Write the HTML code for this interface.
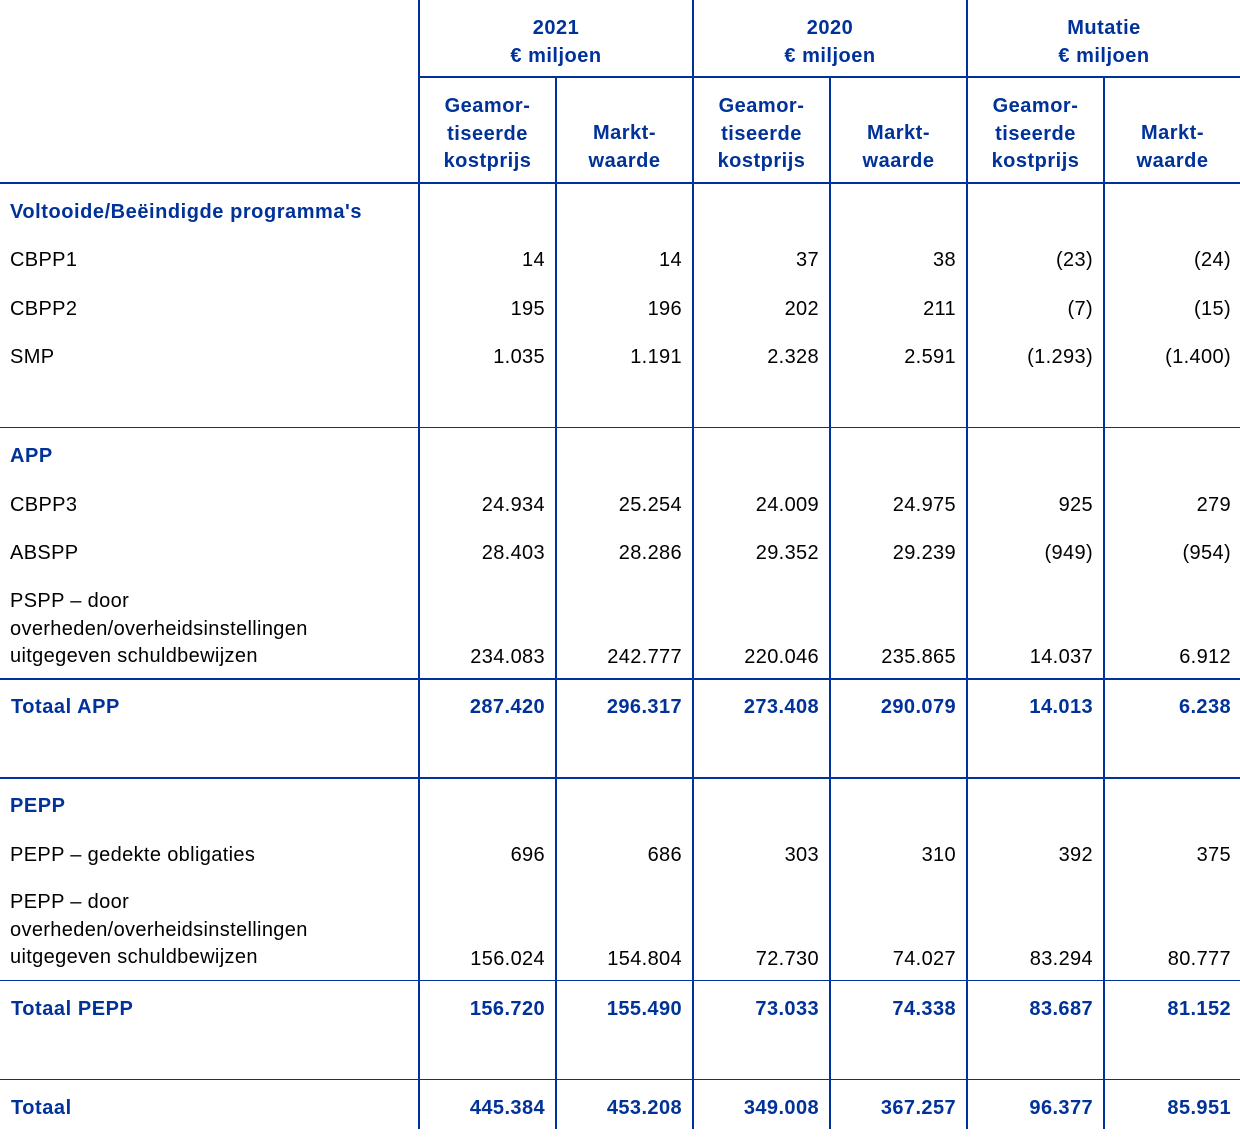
<!DOCTYPE html>
<html><head><meta charset="utf-8"><style>
html,body{margin:0;padding:0;background:#fff;}
body{width:1240px;height:1138px;position:relative;overflow:hidden;font-family:"Liberation Sans",Arial,sans-serif;font-size:20px;letter-spacing:0.35px;color:#000;}
.l{position:absolute;background:#003299;}
.t{position:absolute;line-height:28px;white-space:nowrap;}
.b{font-weight:bold;color:#003299;letter-spacing:0.55px;}
.h{position:absolute;font-weight:bold;color:#003299;text-align:center;line-height:27.5px;white-space:nowrap;letter-spacing:0.5px;}
.r{position:absolute;line-height:28px;white-space:nowrap;text-align:right;}
.r.b{letter-spacing:0.4px;}
.c1{right:695px}.c2{right:558px}.c3{right:421px}.c4{right:284px}.c5{right:147px}.c6{right:9px}
</style></head><body>
<!-- vertical lines -->
<div class="l" style="left:418px;top:0;width:2px;height:1129px"></div>
<div class="l" style="left:555px;top:77px;width:2px;height:1052px"></div>
<div class="l" style="left:692px;top:0;width:2px;height:1129px"></div>
<div class="l" style="left:829px;top:77px;width:2px;height:1052px"></div>
<div class="l" style="left:966px;top:0;width:2px;height:1129px"></div>
<div class="l" style="left:1103px;top:77px;width:2px;height:1052px"></div>
<!-- horizontal lines -->
<div class="l" style="left:418px;top:76px;width:822px;height:2px"></div>
<div class="l" style="left:0;top:182px;width:1240px;height:2px"></div>
<div class="l" style="left:0;top:427px;width:1240px;height:1px"></div>
<div class="l" style="left:0;top:678px;width:1240px;height:2px"></div>
<div class="l" style="left:0;top:777px;width:1240px;height:2px"></div>
<div class="l" style="left:0;top:980px;width:1240px;height:1px"></div>
<div class="l" style="left:0;top:1079px;width:1240px;height:1px"></div>

<!-- header groups -->
<div class="h" style="left:420px;width:272px;top:15px">2021<br>€ miljoen</div>
<div class="h" style="left:694px;width:272px;top:15px">2020<br>€ miljoen</div>
<div class="h" style="left:968px;width:272px;top:15px">Mutatie<br>€ miljoen</div>
<!-- subheaders -->
<div class="h" style="left:420px;width:135px;top:93px">Geamor-<br>tiseerde<br>kostprijs</div>
<div class="h" style="left:557px;width:135px;top:120px">Markt-<br>waarde</div>
<div class="h" style="left:694px;width:135px;top:93px">Geamor-<br>tiseerde<br>kostprijs</div>
<div class="h" style="left:831px;width:135px;top:120px">Markt-<br>waarde</div>
<div class="h" style="left:968px;width:135px;top:93px">Geamor-<br>tiseerde<br>kostprijs</div>
<div class="h" style="left:1105px;width:135px;top:120px">Markt-<br>waarde</div>

<!-- Voltooide -->
<div class="t b" style="left:10px;top:198px">Voltooide/Beëindigde programma's</div>

<div class="t" style="left:10px;top:246px">CBPP1</div>
<div class="r c1" style="top:246px">14</div><div class="r c2" style="top:246px">14</div><div class="r c3" style="top:246px">37</div><div class="r c4" style="top:246px">38</div><div class="r c5" style="top:246px">(23)</div><div class="r c6" style="top:246px">(24)</div>

<div class="t" style="left:10px;top:295px">CBPP2</div>
<div class="r c1" style="top:295px">195</div><div class="r c2" style="top:295px">196</div><div class="r c3" style="top:295px">202</div><div class="r c4" style="top:295px">211</div><div class="r c5" style="top:295px">(7)</div><div class="r c6" style="top:295px">(15)</div>

<div class="t" style="left:10px;top:343px">SMP</div>
<div class="r c1" style="top:343px">1.035</div><div class="r c2" style="top:343px">1.191</div><div class="r c3" style="top:343px">2.328</div><div class="r c4" style="top:343px">2.591</div><div class="r c5" style="top:343px">(1.293)</div><div class="r c6" style="top:343px">(1.400)</div>

<!-- APP -->
<div class="t b" style="left:10px;top:442px">APP</div>

<div class="t" style="left:10px;top:491px">CBPP3</div>
<div class="r c1" style="top:491px">24.934</div><div class="r c2" style="top:491px">25.254</div><div class="r c3" style="top:491px">24.009</div><div class="r c4" style="top:491px">24.975</div><div class="r c5" style="top:491px">925</div><div class="r c6" style="top:491px">279</div>

<div class="t" style="left:10px;top:539px">ABSPP</div>
<div class="r c1" style="top:539px">28.403</div><div class="r c2" style="top:539px">28.286</div><div class="r c3" style="top:539px">29.352</div><div class="r c4" style="top:539px">29.239</div><div class="r c5" style="top:539px">(949)</div><div class="r c6" style="top:539px">(954)</div>

<div class="t" style="left:10px;top:588px;line-height:27.6px">PSPP – door<br>overheden/overheidsinstellingen<br>uitgegeven schuldbewijzen</div>
<div class="r c1" style="top:643px">234.083</div><div class="r c2" style="top:643px">242.777</div><div class="r c3" style="top:643px">220.046</div><div class="r c4" style="top:643px">235.865</div><div class="r c5" style="top:643px">14.037</div><div class="r c6" style="top:643px">6.912</div>

<div class="t b" style="left:11px;top:693px">Totaal APP</div>
<div class="r b c1" style="top:693px">287.420</div><div class="r b c2" style="top:693px">296.317</div><div class="r b c3" style="top:693px">273.408</div><div class="r b c4" style="top:693px">290.079</div><div class="r b c5" style="top:693px">14.013</div><div class="r b c6" style="top:693px">6.238</div>

<!-- PEPP -->
<div class="t b" style="left:10px;top:792px">PEPP</div>

<div class="t" style="left:10px;top:841px">PEPP – gedekte obligaties</div>
<div class="r c1" style="top:841px">696</div><div class="r c2" style="top:841px">686</div><div class="r c3" style="top:841px">303</div><div class="r c4" style="top:841px">310</div><div class="r c5" style="top:841px">392</div><div class="r c6" style="top:841px">375</div>

<div class="t" style="left:10px;top:889px;line-height:27.6px">PEPP – door<br>overheden/overheidsinstellingen<br>uitgegeven schuldbewijzen</div>
<div class="r c1" style="top:945px">156.024</div><div class="r c2" style="top:945px">154.804</div><div class="r c3" style="top:945px">72.730</div><div class="r c4" style="top:945px">74.027</div><div class="r c5" style="top:945px">83.294</div><div class="r c6" style="top:945px">80.777</div>

<div class="t b" style="left:11px;top:995px">Totaal PEPP</div>
<div class="r b c1" style="top:995px">156.720</div><div class="r b c2" style="top:995px">155.490</div><div class="r b c3" style="top:995px">73.033</div><div class="r b c4" style="top:995px">74.338</div><div class="r b c5" style="top:995px">83.687</div><div class="r b c6" style="top:995px">81.152</div>

<!-- Totaal -->
<div class="t b" style="left:11px;top:1094px">Totaal</div>
<div class="r b c1" style="top:1094px">445.384</div><div class="r b c2" style="top:1094px">453.208</div><div class="r b c3" style="top:1094px">349.008</div><div class="r b c4" style="top:1094px">367.257</div><div class="r b c5" style="top:1094px">96.377</div><div class="r b c6" style="top:1094px">85.951</div>
</body></html>
